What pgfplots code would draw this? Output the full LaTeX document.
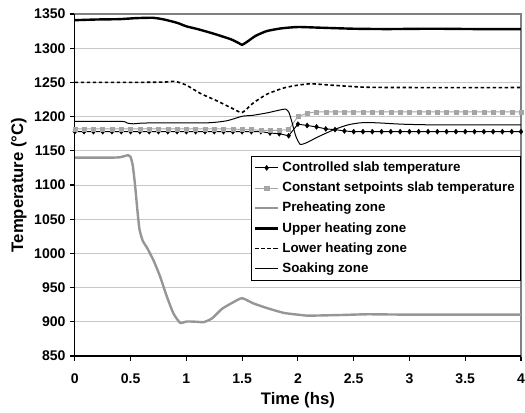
\documentclass[border=0pt]{standalone}
\usepackage{fontspec}
\setmainfont{Liberation Sans}
\usepackage{pgfplots}
\usepackage{pgfplotstable}
\pgfplotsset{compat=1.18}
\definecolor{pregray}{RGB}{150,150,150}
\definecolor{setgray}{RGB}{165,165,165}
\definecolor{gridgray}{RGB}{200,200,200}
\definecolor{framegray}{RGB}{128,128,128}

% slab temperatures, one sample every 1/12 hs
\pgfplotstableread{
t      ctrl   const
0      1178   1182
0.083  1178   1182
0.167  1178   1182
0.25   1178   1182
0.333  1178   1182
0.417  1178   1182
0.5    1178   1182
0.583  1178   1182
0.667  1178   1182
0.75   1178   1182
0.833  1178   1182
0.917  1178   1182
1      1178   1182
1.083  1178   1182
1.167  1178   1182
1.25   1178   1182
1.333  1178   1182
1.417  1178   1182
1.5    1178   1181
1.583  1178   1181
1.667  1178   1180
1.75   1176   1180
1.833  1175   1180
1.917  1172   1181
2      1189   1200
2.083  1187   1205
2.167  1185   1207
2.25   1182   1207
2.333  1181   1207
2.417  1179   1207
2.5    1178   1207
2.583  1178   1207
2.667  1178   1207
2.75   1178   1207
2.833  1178   1207
2.917  1178   1207
3      1178   1207
3.083  1178   1207
3.167  1178   1207
3.25   1178   1207
3.333  1178   1207
3.417  1178   1207
3.5    1178   1207
3.583  1178   1207
3.667  1178   1207
3.75   1178   1207
3.833  1178   1207
3.917  1178   1207
4      1178   1207
}\slab

\newcommand{\legtxt}[1]{\fontsize{10}{12}\selectfont\textbf{#1}}

\begin{document}
\begin{tikzpicture}
\begin{axis}[
    name=ax,
    scale only axis,
    width=334pt, height=256pt,
    xmin=0, xmax=4, ymin=850, ymax=1350,
    xtick={0,0.5,1,1.5,2,2.5,3,3.5,4},
    xticklabels={0,0.5,1,1.5,2,2.5,3,3.5,4},
    ytick={850,900,950,1000,1050,1100,1150,1200,1250,1300,1350},
    yticklabel style={/pgf/number format/1000 sep={}},
    /pgf/number format/assume math mode=true,
    ticklabel style={font=\bfseries\fontsize{10.5}{12}\selectfont},
    xticklabel style={overlay, yshift=-6pt},
    xlabel={Time (hs)}, ylabel={Temperature (°C)},
    every axis y label/.style={at={(rel axis cs:0,0.5)}, xshift=-42pt, rotate=90, anchor=center,
        font=\bfseries\fontsize{12.5}{14}\selectfont},
    every axis x label/.style={at={(rel axis cs:0.5,0)}, yshift=-33pt, anchor=center,
        font=\bfseries\fontsize{12.5}{14}\selectfont},
    ymajorgrids, grid style={draw=gridgray, line width=0.7pt},
    axis line style={draw=framegray, line width=0.8pt},
    tick align=outside, xtick pos=bottom, ytick pos=left,
    major tick length=3.5pt, tick style={black, line width=0.8pt},
    clip=false,
    legend cell align=left,
    legend style={at={(1,0.585)}, anchor=north east, draw=black, line width=0.8pt,
        inner xsep=2pt, inner ysep=1pt,
        nodes={inner sep=2.3pt, text height=8pt, text depth=2.5pt}},
]
\addplot[black, line width=0.7pt, mark=diamond*, mark size=1.9pt,
    mark options={solid, line width=0.3pt}] table[x=t, y=ctrl] {\slab};
\addlegendentry{\legtxt{Controlled slab temperature}}
\addplot[setgray, line width=0.7pt, mark=square*, mark size=1.5pt,
    mark options={solid, line width=0.3pt}] table[x=t, y=const] {\slab};
\addlegendentry{\legtxt{Constant setpoints slab temperature}}
\addplot[pregray, line width=1.8pt, smooth, tension=0.35] coordinates {
 (0,1140) (0.3,1140) (0.4,1140.5) (0.45,1142.5) (0.48,1143.5) (0.5,1141)
 (0.52,1128) (0.54,1100) (0.56,1065) (0.58,1035) (0.61,1018) (0.645,1009)
 (0.705,990) (0.765,966) (0.825,937) (0.885,912) (0.945,898.5) (1.005,900.5)
 (1.1,900) (1.155,899.5) (1.23,905) (1.32,919) (1.425,929) (1.5,934.5)
 (1.6,927) (1.725,920) (1.875,913) (2.025,910) (2.1,909) (2.4,910)
 (2.625,911) (3,910.5) (4,910.5)};
\addlegendentry{\legtxt{Preheating zone}}
\addplot[black, line width=1.8pt, smooth, tension=0.35] coordinates {
 (0,1341) (0.2,1342) (0.4,1342.5) (0.55,1344) (0.7,1344.5) (0.8,1342)
 (0.92,1337) (1.0,1332) (1.1,1328) (1.25,1321) (1.4,1313) (1.47,1307.5)
 (1.5,1305) (1.55,1310) (1.62,1318) (1.72,1325) (1.85,1329) (2.0,1331)
 (2.2,1330) (2.5,1328.5) (2.8,1328) (3.2,1328.5) (3.6,1328) (4,1328)};
\addlegendentry{\legtxt{Upper heating zone}}
\addplot[black, line width=1.2pt, dash pattern=on 2.5pt off 2pt, smooth, tension=0.35] coordinates {
 (0,1250) (0.5,1250) (0.8,1250.5) (0.9,1251.5) (1.0,1246) (1.125,1234)
 (1.275,1223) (1.4,1213) (1.5,1206) (1.6,1220) (1.725,1233) (1.875,1242)
 (2.0,1246) (2.12,1248) (2.3,1246) (2.6,1243) (3,1242.5) (4,1242.5)};
\addlegendentry{\legtxt{Lower heating zone}}
\addplot[black, line width=0.75pt, smooth, tension=0.35] coordinates {
 (0,1193) (0.42,1193) (0.47,1190.5) (0.525,1189.5) (0.6,1190.5) (0.8,1191)
 (1.2,1191) (1.365,1194) (1.5,1200.5) (1.6,1202) (1.725,1205.5) (1.82,1209)
 (1.89,1211) (1.92,1206) (1.95,1190) (1.98,1172) (2.02,1159.5) (2.08,1162)
 (2.175,1170) (2.325,1181) (2.45,1188) (2.565,1191) (2.7,1191) (2.925,1189)
 (3.2,1188) (4,1188)};
\addlegendentry{\legtxt{Soaking zone}}
\draw[black, line width=1pt] (rel axis cs:0,1) -- (rel axis cs:0,0) -- (rel axis cs:1,0);
\end{axis}
\path (ax.south west) ++(-56pt,0pt) coordinate (bl);
\path (ax.north east) ++(3pt,10.5pt) coordinate (tr);
\end{tikzpicture}
\end{document}
